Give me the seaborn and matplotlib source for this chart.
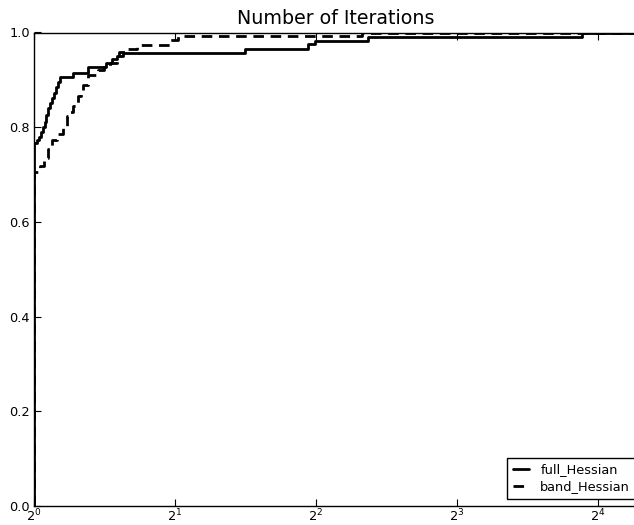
import matplotlib
matplotlib.use("Agg")
import matplotlib.pyplot as plt
import matplotlib.ticker as mticker
import seaborn as sns

# performance profile values
full_tau = [1.0, 1.0, 1.013, 1.025, 1.035, 1.045, 1.056, 1.063, 1.071, 1.082, 1.093, 1.103,
            1.114, 1.125, 1.136, 1.211, 1.304, 1.425, 1.467, 1.504, 1.549, 2.82, 3.845, 3.98,
            5.17, 14.8, 19.4]
full_frac = [0.0, 0.767, 0.772, 0.78, 0.79, 0.80, 0.812, 0.826, 0.84, 0.851, 0.862, 0.873,
             0.884, 0.895, 0.905, 0.915, 0.927, 0.935, 0.943, 0.95, 0.957, 0.966, 0.975, 0.983,
             0.991, 1.0, 1.0]

band_tau = [1.0, 1.0, 1.03, 1.05, 1.071, 1.093, 1.12, 1.153, 1.176, 1.194, 1.211, 1.241,
            1.26, 1.272, 1.304, 1.37, 1.411, 1.453, 1.504, 1.519, 1.564, 1.659, 1.951, 2.03,
            5.015, 19.4]
band_frac = [0.0, 0.706, 0.718, 0.735, 0.755, 0.774, 0.786, 0.798, 0.823, 0.833, 0.844, 0.865,
             0.877, 0.89, 0.911, 0.921, 0.928, 0.935, 0.95, 0.958, 0.965, 0.974, 0.984, 0.993,
             1.0, 1.0]

labels = ["full_Hessian", "band_Hessian"]

sns.set_style("ticks")
plt.rcParams["font.family"] = ["DejaVu Sans"]

fig = plt.figure(figsize=(6.34, 5.25), dpi=100)
# axes runs off the right edge like the original crop
ax = fig.add_axes([34 / 634, 19 / 525, (637 - 34) / 634, (506 - 32.5) / 525])

sns.lineplot(x=full_tau, y=full_frac, ax=ax, estimator=None, sort=False,
             drawstyle="steps-post", color="black", linewidth=2.0, label=labels[0])
sns.lineplot(x=band_tau, y=band_frac, ax=ax, estimator=None, sort=False,
             drawstyle="steps-post", color="black", linewidth=2.0,
             linestyle=(0, (3.8, 2.4)), label=labels[1])

ax.set_xscale("log", base=2)
ax.set_xlim(1, 2 ** ((637 - 34) / 141))
ax.set_ylim(0, 1)
ax.xaxis.set_major_locator(mticker.LogLocator(base=2))
ax.xaxis.set_major_formatter(mticker.LogFormatterMathtext(base=2))
ax.xaxis.set_minor_locator(mticker.NullLocator())
ax.yaxis.set_major_locator(mticker.MultipleLocator(0.2))
ax.yaxis.set_major_formatter(mticker.FormatStrFormatter("%.1f"))

ax.tick_params(direction="in", length=5, width=0.8, labelsize=9.3, top=True, right=False,
               colors="black")
ax.tick_params(axis="x", pad=1.5)
ax.tick_params(axis="y", pad=3)
for sp in ax.spines.values():
    sp.set_color("black")
    sp.set_linewidth(1.0)

ax.set_xlabel("")
ax.set_ylabel("")
ax.set_title("Number of Iterations", fontsize=13.7, pad=6, color="black")

leg = ax.legend(loc="lower right", bbox_to_anchor=(636 / 634, 1 - 499 / 525),
                bbox_transform=fig.transFigure, borderaxespad=0, fontsize=9.3,
                handlelength=1.2, handletextpad=0.9, borderpad=0.45, labelspacing=0.3,
                fancybox=False, framealpha=1, edgecolor="black")
leg.get_frame().set_linewidth(1.0)
for t in leg.get_texts():
    t.set_color("black")

fig.savefig("out.png", dpi=100)
